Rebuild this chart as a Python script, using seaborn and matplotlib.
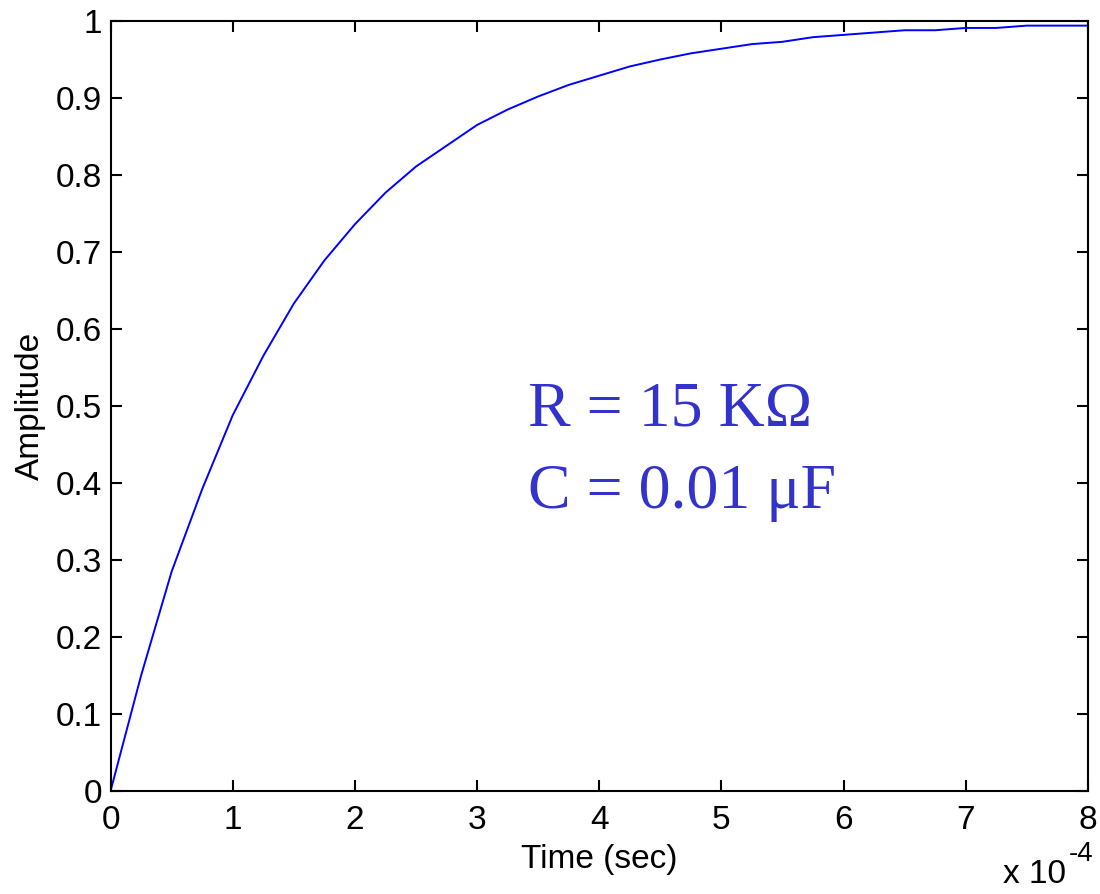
import matplotlib
matplotlib.use('Agg')
import matplotlib.pyplot as plt
import seaborn as sns
import numpy as np
import pandas as pd
from matplotlib.ticker import FuncFormatter

# step response (time in seconds)
time_e4 = [0, 0.25, 0.5, 0.75, 1.0, 1.25, 1.5, 1.75, 2.0, 2.25, 2.5, 2.75,
           3.0, 3.25, 3.5, 3.75, 4.0, 4.25, 4.5, 4.75, 5.0, 5.25, 5.5, 5.75,
           6.0, 6.25, 6.5, 6.75, 7.0, 7.25, 7.5, 7.75, 8.0]
amplitude = [0, 0.15, 0.285, 0.392, 0.488, 0.565, 0.633, 0.689, 0.736, 0.777,
             0.811, 0.838, 0.865, 0.885, 0.902, 0.917, 0.929, 0.941, 0.950,
             0.958, 0.964, 0.970, 0.973, 0.979, 0.982, 0.985, 0.988, 0.988,
             0.991, 0.991, 0.994, 0.994, 0.994]
xticks_e4 = [0, 1, 2, 3, 4, 5, 6, 7, 8]
yticks = [0, 0.1, 0.2, 0.3, 0.4, 0.5, 0.6, 0.7, 0.8, 0.9, 1.0]

df = pd.DataFrame({'t': np.array(time_e4) * 1e-4, 'amp': amplitude})

sns.set_theme(style='white')
plt.rcParams['font.family'] = ['Liberation Sans', 'DejaVu Sans']
plt.rcParams['xtick.direction'] = 'in'
plt.rcParams['ytick.direction'] = 'in'

fig = plt.figure(figsize=(11, 8.94), dpi=100)
ax = fig.add_axes([0.1005, 0.1152, 0.8885, 0.8613])

sns.lineplot(data=df, x='t', y='amp', ax=ax, color='#0000FF', linewidth=1.4)

ax.set_xlim(0, 8e-4)
ax.set_ylim(0, 1)
ax.set_xticks(np.array(xticks_e4) * 1e-4)
ax.set_yticks(yticks)
ax.xaxis.set_major_formatter(FuncFormatter(lambda v, p: f'{v * 1e4:g}'))
ax.yaxis.set_major_formatter(FuncFormatter(lambda v, p: f'{v:g}'))
ax.tick_params(axis='both', which='major', length=8, width=1.5, color='black',
               labelsize=24, labelcolor='black', top=True, right=True,
               bottom=True, left=True)
ax.tick_params(axis='x', pad=10)
ax.tick_params(axis='y', pad=6)
for s in ax.spines.values():
    s.set_visible(True)
    s.set_color('black')
    s.set_linewidth(1.5)

ax.set_xlabel('Time (sec)', fontsize=24, color='black', labelpad=6)
ax.set_ylabel('Amplitude', fontsize=24, color='black', labelpad=7)

# exponent label like MATLAB
fig.text(0.912, 0.012, 'x 10', fontsize=24, color='black', ha='left', va='baseline')
fig.text(0.972, 0.037, '-4', fontsize=20, color='black', ha='left', va='baseline')

ax.text(3.42e-4, 0.475, 'R = 15 K\u03a9', fontsize=46, color='#3333CC',
        family=['Liberation Serif', 'DejaVu Serif'], ha='left', va='baseline')
ax.text(3.42e-4, 0.3675, 'C = 0.01 \u03bcF', fontsize=46, color='#3333CC',
        family=['Liberation Serif', 'DejaVu Serif'], ha='left', va='baseline')

plt.savefig('out.png', dpi=100)
plt.close('all')
